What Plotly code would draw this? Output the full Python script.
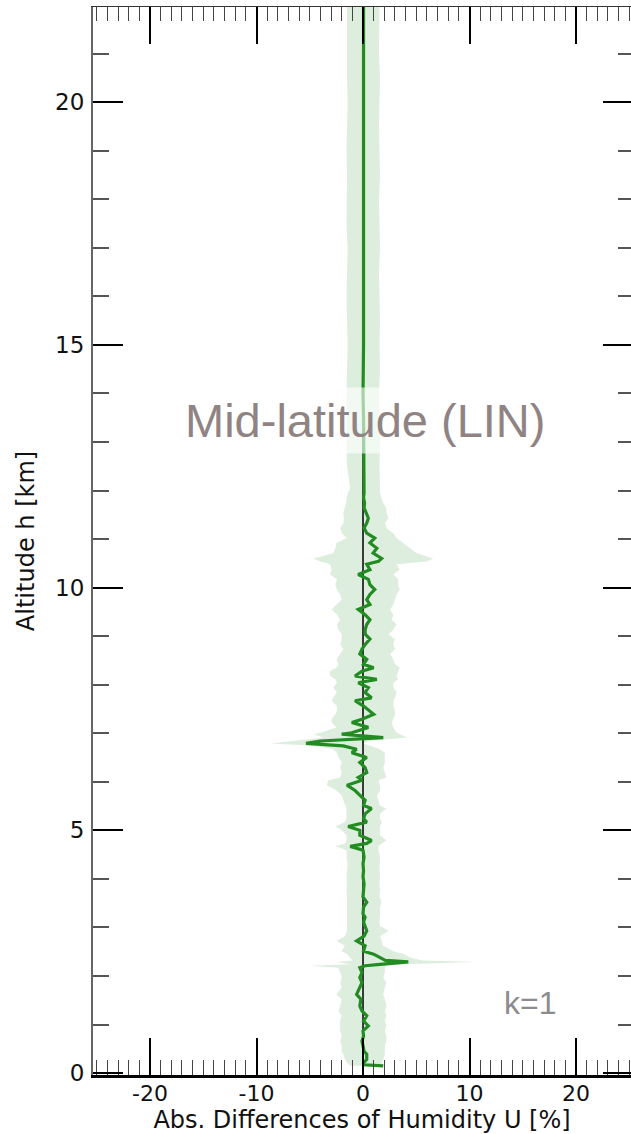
import plotly.graph_objects as go

# ---- data (altitude km, mean diff %, band low %, band high %) ----
alt = [0.15, 0.17, 0.21, 0.28, 0.39, 0.45, 0.56, 0.66, 0.76, 0.87, 0.97, 1.07, 1.18, 1.28, 1.38,
       1.52, 1.62, 1.76, 1.86, 1.97, 2.07, 2.17, 2.21, 2.24, 2.29, 2.32, 2.38, 2.45, 2.51, 2.62,
       2.72, 2.82, 2.93, 3.03, 3.11, 3.21, 3.28, 3.42, 3.52, 3.63, 3.76, 3.90, 4.04, 4.18, 4.31,
       4.45, 4.59, 4.67, 4.73, 4.79, 4.90, 5.00, 5.08, 5.17, 5.24, 5.34, 5.45, 5.51, 5.62, 5.72,
       5.82, 5.93, 6.03, 6.09, 6.19, 6.29, 6.40, 6.50, 6.60, 6.67, 6.74, 6.79, 6.84, 6.91, 6.98,
       7.01, 7.12, 7.22, 7.29, 7.39, 7.46, 7.56, 7.67, 7.73, 7.84, 7.94, 8.04, 8.11, 8.18, 8.28,
       8.35, 8.42, 8.52, 8.63, 8.73, 8.83, 8.94, 9.04, 9.13, 9.24, 9.34, 9.44, 9.55, 9.65, 9.75,
       9.86, 9.96, 10.06, 10.17, 10.27, 10.37, 10.48, 10.54, 10.60, 10.71, 10.81, 10.92, 11.02,
       11.12, 11.23, 11.33, 11.43, 11.54, 11.64, 11.74, 11.85, 11.95, 12.05, 12.5, 13.0, 13.5,
       14.0, 14.5, 15.0, 15.5, 16.0, 16.5, 17.0, 17.5, 18.0, 18.5, 19.0, 19.5, 20.0, 20.5, 21.0,
       21.5, 22.0]

mean_diff = [1.9, 0.05, 0.05, 0.35, 0.35, 0.1, 0.0, -0.1, 0.05, 0.0, 0.5, 0.05, 0.35, -0.1, -0.3,
             -0.2, -0.6, -0.35, -0.1, -0.3, -0.1, -0.3, 0.2, 1.6, 4.25, 2.1, 1.6, 1.0, 0.05, 0.2,
             -0.6, 0.1, 0.35, 0.2, 0.05, 0.2, 0.0, 0.05, 0.35, 0.0, 0.05, 0.1, 0.0, 0.05, 0.0,
             0.1, 0.0, -1.2, 0.35, 0.8, -0.3, -0.3, -1.4, 0.35, 0.05, 0.2, 0.8, 0.05, 0.2, -0.3,
             -0.75, -1.5, -0.1, -0.45, 0.35, 0.2, -0.3, 0.35, -1.05, -0.6, -1.85, -5.35, -4.0, 1.9, -2.0,
             -1.05, 0.5, -1.05, -0.1, 1.0, 0.65, 0.05, -0.75, 0.8, 0.2, 0.5, -0.45, 1.3, -0.75, -0.1,
             1.0, 0.05, 0.35, -0.3, -0.1, 0.2, 0.65, 0.2, 0.2, 0.35, 0.65, 0.2, -0.45, 0.65, 0.35,
             0.65, 1.1, 0.65, 0.5, -0.45, 0.65, 0.35, 1.45, 1.75, 0.95, 1.3, 0.65, 1.1,
             0.35, 0.1, 0.35, 0.5, 0.3, 0.1, 0.15, 0.05, 0.1, 0.1, 0.05, 0.05, 0.05,
             0.0, 0.05, 0.05, 0.05, 0.05, 0.0, 0.05, 0.05, 0.05, 0.05, 0.05, 0.05, 0.05, 0.05, 0.05,
             0.05, 0.05]

band_low = [-1.2, -1.3, -1.5, -1.7, -1.85, -2.0, -2.0, -2.15, -2.0, -2.15, -2.15, -2.15, -2.0, -2.3, -2.15,
            -2.0, -2.5, -2.0, -2.15, -2.0, -2.15, -2.3, -5.0, -1.2, -2.5, -1.0, -1.2, -1.5, -2.0, -1.7,
            -2.5, -1.7, -1.5, -1.5, -1.5, -1.5, -1.55, -1.5, -1.5, -1.5, -1.55, -1.5, -1.55, -1.5, -1.45,
            -1.55, -1.55, -2.6, -1.7, -1.55, -1.55, -2.0, -2.6, -1.7, -1.55, -1.55, -1.55, -1.7, -1.85, -2.0,
            -2.5, -3.4, -3.25, -2.15, -2.0, -2.15, -2.0, -2.3, -2.45, -2.8, -4.65, -8.7, -6.85, -3.7, -4.65,
            -4.0, -2.5, -2.95, -2.95, -2.6, -2.45, -2.45, -2.95, -2.8, -2.45, -2.8, -2.45, -2.6, -3.1, -3.1,
            -2.5, -2.3, -2.5, -2.15, -1.85, -2.15, -2.0, -2.0, -2.3, -2.45, -2.15, -2.45, -2.95, -2.5, -2.0,
            -2.15, -2.45, -2.6, -2.45, -3.1, -2.95, -3.1, -4.0, -4.65, -2.8, -2.6, -2.5, -1.55,
            -2.0, -2.15, -1.85, -1.8, -1.85, -1.7, -1.6, -1.55, -1.4, -1.2, -1.5, -1.55, -1.5,
            -1.55, -1.5, -1.45, -1.5, -1.55, -1.5, -1.45, -1.55, -1.5, -1.5, -1.55, -1.5, -1.45, -1.5, -1.55,
            -1.5, -1.5]

band_high = [1.9, 1.9, 1.75, 1.9, 2.05, 2.05, 2.05, 2.2, 2.2, 2.05, 2.2, 2.05, 2.2, 2.05, 2.2,
             2.05, 1.9, 2.05, 2.2, 1.9, 2.05, 2.05, 2.2, 3.8, 10.7, 5.6, 4.4, 3.8, 2.85, 1.9,
             1.75, 1.6, 2.4, 1.6, 1.55, 1.6, 1.6, 1.6, 1.75, 1.55, 1.6, 1.55, 1.6, 1.55, 1.55,
             1.6, 1.45, 1.45, 1.75, 2.2, 1.6, 1.6, 1.6, 1.75, 1.6, 1.6, 2.2, 1.6, 1.45, 1.3,
             1.6, 1.6, 1.45, 2.2, 2.05, 1.9, 2.05, 2.05, 2.05, 1.6, 0.65, 0.05, 0.65, 4.1, 3.5,
             3.15, 2.85, 2.7, 2.85, 3.0, 3.0, 2.85, 2.85, 3.0, 3.15, 2.85, 2.85, 3.3, 3.15, 3.3,
             3.45, 3.0, 2.85, 2.55, 3.0, 2.85, 3.0, 2.4, 2.85, 3.15, 2.7, 2.85, 2.55, 2.85, 3.0,
             3.15, 3.45, 3.3, 3.3, 2.85, 3.45, 3.15, 5.95, 6.6, 5.05, 4.4, 3.8, 3.15,
             2.85, 2.2, 2.05, 2.4, 2.2, 2.2, 1.9, 1.75, 1.6, 1.6, 1.55, 1.6, 1.55,
             1.5, 1.6, 1.55, 1.6, 1.55, 1.5, 1.6, 1.55, 1.5, 1.6, 1.55, 1.5, 1.55, 1.6, 1.5,
             1.55, 1.55]

x_ticks = [-20, -10, 0, 10, 20]
x_ticktext = ["-20", "-10", "0", "10", "20"]
x_minor = list(range(-25, 26))
y_ticks = [0, 5, 10, 15, 20]
y_ticktext = ["0", "5", "10", "15", "20"]
y_minor = list(range(0, 23))

x_range = [-25.35, 25.16]
y_range = [-0.04, 21.96]

GREEN = "#228B22"
FONT = "DejaVu Sans"

fig = go.Figure()

# uncertainty band
fig.add_trace(go.Scatter(
    x=band_high + band_low[::-1], y=alt + alt[::-1],
    fill="toself", fillcolor="rgba(34,139,34,0.15)",
    line=dict(width=0), mode="lines", hoverinfo="skip", showlegend=False))

# zero reference line
fig.add_trace(go.Scatter(
    x=[0, 0], y=y_range, mode="lines",
    line=dict(color="black", width=1.5), hoverinfo="skip", showlegend=False))

# mean difference line
fig.add_trace(go.Scatter(
    x=mean_diff, y=alt, mode="lines",
    line=dict(color=GREEN, width=3.2), showlegend=False))

# dummy trace for mirrored axes
fig.add_trace(go.Scatter(x=[None], y=[None], xaxis="x2", yaxis="y2",
                         mode="markers", showlegend=False, hoverinfo="skip"))

tickfont = dict(family=FONT, size=23, color="#111")

fig.update_layout(
    width=631, height=1134,
    margin=dict(l=93, r=0, t=7, b=59),
    plot_bgcolor="white", paper_bgcolor="white",
    font=dict(family=FONT),
    xaxis=dict(
        range=x_range, tickmode="array", tickvals=x_ticks, ticktext=x_ticktext,
        ticks="inside", ticklen=37, tickwidth=1.5, tickcolor="black",
        minor=dict(tickmode="array", tickvals=x_minor, ticks="inside", ticklen=15,
                   tickwidth=1.3, tickcolor="#444"),
        showline=True, linecolor="black", linewidth=2.5,
        showgrid=False, zeroline=False,
        tickfont=dict(family=FONT, size=22, color="#111"),
        ticklabelstandoff=-3,
        title=dict(text="Abs. Differences of Humidity U [%]",
                   font=dict(family=FONT, size=24, color="#111"), standoff=1),
    ),
    xaxis2=dict(
        range=x_range, overlaying="x", side="top", anchor="y",
        tickmode="array", tickvals=x_ticks, showticklabels=False,
        ticks="inside", ticklen=37, tickwidth=1.5, tickcolor="black",
        minor=dict(tickmode="array", tickvals=x_minor, ticks="inside", ticklen=14,
                   tickwidth=1.3, tickcolor="#444"),
        showline=True, linecolor="#333", linewidth=1.2,
        showgrid=False, zeroline=False,
    ),
    yaxis=dict(
        range=y_range, tickmode="array", tickvals=y_ticks, ticktext=y_ticktext,
        ticks="inside", ticklen=30, tickwidth=1.8, tickcolor="black",
        minor=dict(tickmode="array", tickvals=y_minor, ticks="inside", ticklen=16,
                   tickwidth=1.5, tickcolor="#555"),
        showline=True, linecolor="#666", linewidth=2,
        showgrid=False, zeroline=False, tickfont=tickfont,
        ticklabelstandoff=2,
        title=dict(text="Altitude h [km]",
                   font=dict(family=FONT, size=24, color="#111"), standoff=14),
    ),
    yaxis2=dict(
        range=y_range, overlaying="y", side="right", anchor="x",
        tickmode="array", tickvals=y_ticks, showticklabels=False,
        ticks="inside", ticklen=28, tickwidth=1.8, tickcolor="black",
        minor=dict(tickmode="array", tickvals=y_minor, ticks="inside", ticklen=13,
                   tickwidth=1.5, tickcolor="#555"),
        showline=False, showgrid=False, zeroline=False,
    ),
    annotations=[
        dict(text="Mid-latitude (LIN)", x=0.2, y=13.44, xref="x", yref="y",
             showarrow=False, font=dict(family="Liberation Sans", size=47, color="#8f8483"),
             bgcolor="rgba(255,255,255,0.6)", borderpad=6),
        dict(text="k=1", x=15.7, y=1.44, xref="x", yref="y",
             showarrow=False, font=dict(family="Liberation Sans", size=32, color="#8c8c8c")),
    ],
)

fig.write_html("out.html")
